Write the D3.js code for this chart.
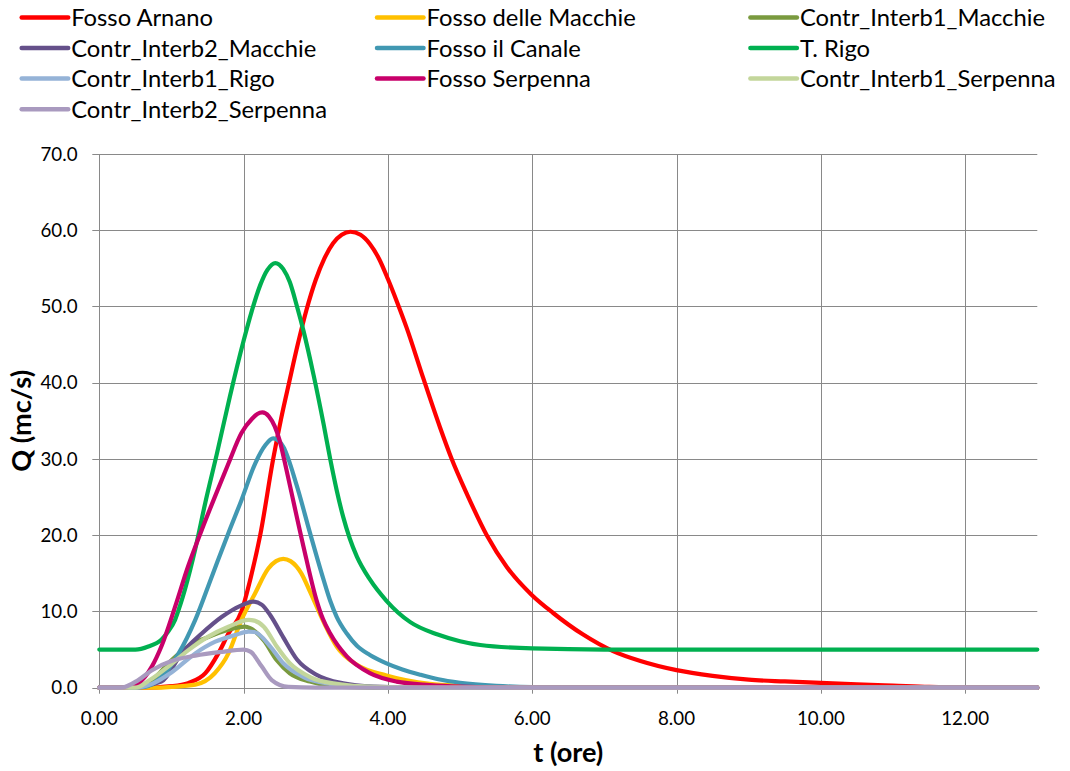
<!DOCTYPE html>
<html><head><meta charset="utf-8">
<script src="https://cdn.jsdelivr.net/npm/d3@7"></script>
<style>body{margin:0;background:#fff} svg{display:block}</style>
</head><body><svg id="c" width="1070" height="771"></svg>
<script>
// ---- data (t in hours, Q in m3/s) ----
const seriesNames = ["Fosso Arnano","Fosso delle Macchie","Contr_Interb1_Macchie","Contr_Interb2_Macchie","Fosso il Canale","T. Rigo","Contr_Interb1_Rigo","Fosso Serpenna","Contr_Interb1_Serpenna","Contr_Interb2_Serpenna"];
const seriesColors = ["#FF0000","#FFC000","#7A9A3F","#65508A","#4198B2","#00B050","#95B3D7","#C8006A","#C3D69B","#A99ABF"];

const fossoArnano = [[0,0],[0.6,0],[1.0,0.2],[1.23,0.6],[1.47,1.9],[1.65,4.5],[1.79,7.1],[1.97,10.0],[2.1,14.5],[2.23,20.0],[2.41,30.0],[2.52,35.3],[2.63,40.0],[2.75,45.0],[2.87,49.5],[3.0,53.5],[3.12,56.3],[3.24,58.3],[3.36,59.4],[3.48,59.8],[3.62,59.4],[3.75,58.2],[3.88,56.2],[4.0,53.6],[4.13,50.5],[4.26,47.2],[4.49,40.6],[4.72,34.2],[4.88,30.1],[5.1,25.3],[5.37,20.0],[5.65,15.8],[5.99,12.2],[6.29,9.8],[6.7,7.0],[7.12,4.8],[7.5,3.5],[8.0,2.3],[8.5,1.55],[9.0,1.05],[9.5,0.82],[10.0,0.63],[10.5,0.45],[11.0,0.28],[11.5,0.1],[12.0,0.02],[13.0,0]];
const fossoDelleMacchie = [[0,0],[0.8,0],[1.0,0.1],[1.33,0.4],[1.6,1.9],[1.79,4.5],[1.97,8.9],[2.16,12.4],[2.34,15.6],[2.45,16.6],[2.55,16.9],[2.65,16.6],[2.8,15.0],[2.92,12.6],[3.11,8.6],[3.29,5.4],[3.57,3.0],[3.98,1.6],[4.58,0.5],[5.0,0.25],[6.0,0.05],[7.0,0],[13.0,0]];
const contrInterb1Macchie = [[0,0],[0.4,0],[0.73,1.0],[1.0,3.6],[1.23,5.4],[1.5,6.6],[1.79,7.6],[2.02,8.0],[2.09,7.8],[2.28,6.2],[2.46,3.6],[2.64,1.9],[2.92,0.8],[3.2,0.25],[3.6,0.05],[4.0,0],[13.0,0]];
const contrInterb2Macchie = [[0,0],[0.4,0],[0.86,0.8],[1.14,4.5],[1.42,7.1],[1.70,9.3],[1.97,10.8],[2.13,11.3],[2.25,10.9],[2.37,9.5],[2.55,6.6],[2.74,3.7],[3.01,1.7],[3.38,0.57],[3.8,0.15],[4.5,0],[13.0,0]];
const fossoIlCanale = [[0,0],[0.5,0],[0.63,0.1],[0.86,1.4],[1.10,4.5],[1.33,8.9],[1.56,14.6],[1.79,20.3],[1.97,24.6],[2.16,29.4],[2.3,31.8],[2.41,32.7],[2.55,31.6],[2.74,26.4],[2.92,20.3],[3.11,14.1],[3.2,11.4],[3.29,9.3],[3.43,7.1],[3.57,5.5],[3.75,4.3],[3.98,3.2],[4.2,2.4],[4.45,1.7],[4.7,1.1],[5.0,0.65],[5.5,0.25],[6.0,0.08],[7.0,0],[13.0,0]];
const tRigo = [[0,5.0],[0.5,5.0],[0.68,5.4],[0.86,6.3],[0.95,7.3],[1.05,8.9],[1.12,10.8],[1.19,13.0],[1.33,18.2],[1.47,24.3],[1.63,30.7],[1.81,38.2],[2.0,45.5],[2.11,49.3],[2.23,52.8],[2.33,54.8],[2.44,55.7],[2.55,54.9],[2.64,53.2],[2.74,50.0],[2.83,46.8],[2.97,41.0],[3.11,34.5],[3.2,30.0],[3.29,25.9],[3.38,22.4],[3.47,19.6],[3.57,17.2],[3.75,14.2],[3.98,11.4],[4.31,8.6],[4.68,7.0],[5.0,6.1],[5.28,5.6],[6.0,5.15],[7.0,5.0],[13.0,5.0]];
const contrInterb1Rigo = [[0,0],[0.5,0],[0.73,0.5],[1.0,2.0],[1.33,4.5],[1.60,6.0],[1.88,6.9],[2.07,7.35],[2.15,7.3],[2.37,5.4],[2.55,3.2],[2.83,1.4],[3.2,0.5],[3.7,0.1],[4.5,0],[13.0,0]];
const fossoSerpenna = [[0,0],[0.35,0],[0.54,0.6],[0.73,2.8],[0.86,5.4],[1.05,10.6],[1.23,15.9],[1.42,20.7],[1.60,25.0],[1.79,29.4],[1.97,33.4],[2.12,35.3],[2.19,35.9],[2.26,36.1],[2.35,35.6],[2.43,34.3],[2.5,32.4],[2.57,29.6],[2.64,26.6],[2.83,18.5],[3.01,11.5],[3.1,9.0],[3.2,7.1],[3.43,4.1],[3.75,1.9],[4.12,0.8],[4.58,0.35],[5.0,0.15],[6.0,0],[13.0,0]];
const contrInterb1Serpenna = [[0,0],[0.5,0],[0.7,1.0],[0.96,2.8],[1.23,4.9],[1.51,6.7],[1.79,8.0],[2.07,8.9],[2.15,8.8],[2.28,8.0],[2.46,5.4],[2.64,3.2],[2.92,1.4],[3.29,0.5],[3.8,0.1],[4.5,0],[13.0,0]];
const contrInterb2Serpenna = [[0,0],[0.3,0],[0.54,1.0],[0.73,2.3],[1.0,3.5],[1.33,4.2],[1.70,4.7],[2.0,5.0],[2.1,4.7],[2.25,2.8],[2.39,1.0],[2.62,0.1],[3.0,0],[13.0,0]];

const seriesData = [fossoArnano,fossoDelleMacchie,contrInterb1Macchie,contrInterb2Macchie,fossoIlCanale,tRigo,contrInterb1Rigo,fossoSerpenna,contrInterb1Serpenna,contrInterb2Serpenna];
const yTicks = [0,10,20,30,40,50,60,70];
const xTicks = [0,2,4,6,8,10,12];
const xTitle = "t (ore)";
const yTitle = "Q (mc/s)";

// ---- drawing ----
const FONT = "Lato, 'Open Sans', sans-serif";
const svg = d3.select("#c");
const X0 = 99.3, X1 = 1037.3, Y0 = 687.7, Y1 = 154;
const x = d3.scaleLinear().domain([0,13]).range([X0,X1]);
const y = d3.scaleLinear().domain([0,70]).range([Y0,Y1]);
const gridColor = "#898989";

function fitSize(text, target, weight){
  const t = svg.append("text").attr("font-family",FONT).attr("font-weight",weight).attr("font-size",100).text(text);
  const w = t.node().getComputedTextLength(); t.remove();
  return 100*target/w;
}
const tickSize = fitSize("70.0", 37, 400);
const legSize = fitSize("Contr_Interb2_Serpenna", 256, 400);
const titleSize = fitSize("t (ore)", 70, 700);

// horizontal gridlines + y ticks
const gy = svg.append("g");
gy.selectAll("line").data(yTicks).join("line")
  .attr("x1",X0-7).attr("x2",X1).attr("y1",d=>Math.round(y(d))+0.5).attr("y2",d=>Math.round(y(d))+0.5)
  .attr("stroke",gridColor).attr("stroke-width",1);
gy.selectAll("text").data(yTicks).join("text")
  .attr("x",77.5).attr("y",d=>y(d)).attr("dy","0.36em").attr("text-anchor","end")
  .attr("font-family",FONT).attr("font-size",tickSize).attr("fill","#000")
  .text(d=>d3.format(".1f")(d));

// vertical gridlines + x ticks
const gx = svg.append("g");
gx.selectAll("line").data(xTicks).join("line")
  .attr("x1",d=>Math.round(x(d))+0.5).attr("x2",d=>Math.round(x(d))+0.5).attr("y1",Y1).attr("y2",Y0+6)
  .attr("stroke",gridColor).attr("stroke-width",1);
gx.selectAll("text").data(xTicks).join("text")
  .attr("x",d=>x(d)).attr("y",718).attr("dy","0.36em").attr("text-anchor","middle")
  .attr("font-family",FONT).attr("font-size",tickSize).attr("fill","#000")
  .text(d=>d3.format(".2f")(d));

// series lines
const line = d3.line().x(d=>x(d[0])).y(d=>y(d[1])).curve(d3.curveMonotoneX);
svg.append("g").selectAll("path").data(seriesData).join("path")
  .attr("d",line).attr("fill","none")
  .attr("stroke",(d,i)=>seriesColors[i]).attr("stroke-width",4.2)
  .attr("stroke-linejoin","round").attr("stroke-linecap","round");

// axis titles
svg.append("text").attr("x",(X0+X1)/2).attr("y",752).attr("dy","0.36em").attr("text-anchor","middle")
  .attr("font-family",FONT).attr("font-weight",700).attr("font-size",titleSize).text(xTitle);
svg.append("text").attr("transform",`translate(21,${(Y0+Y1)/2}) rotate(-90)`).attr("dy","0.36em").attr("text-anchor","middle")
  .attr("font-family",FONT).attr("font-weight",700).attr("font-size",titleSize).text(yTitle);

// legend
const colX = [21.7, 377, 750.4];
const leg = svg.append("g");
seriesNames.forEach((n,i)=>{
  const c = i%3, r = Math.floor(i/3);
  const ly = 17.4 + r*30.6;
  const g = leg.append("g").attr("transform",`translate(${colX[c]},${ly})`);
  g.append("line").attr("x1",0).attr("x2",46.5).attr("y1",0).attr("y2",0)
    .attr("stroke",seriesColors[i]).attr("stroke-width",4.5).attr("stroke-linecap","round");
  g.append("text").attr("x",49.5).attr("y",0).attr("dy","0.36em")
    .attr("font-family",FONT).attr("font-size",legSize).attr("fill","#000").text(n);
});
</script></body></html>
